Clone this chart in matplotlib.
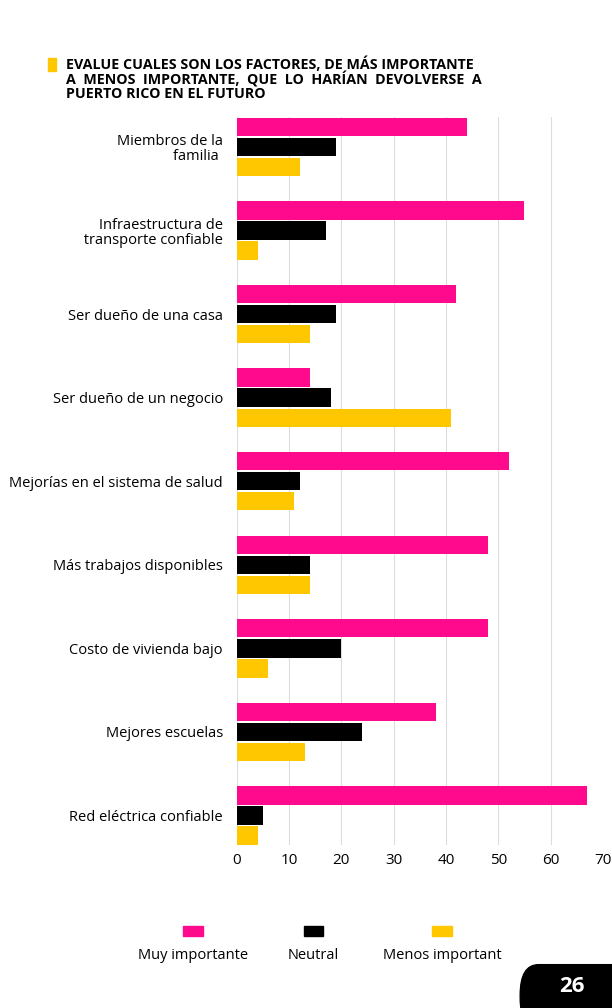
import numpy as np
import matplotlib.pyplot as plt
from matplotlib.patches import FancyBboxPatch

plt.rcParams['font.family'] = ['Open Sans', 'DejaVu Sans']

# ---- data ----
categories = ["Miembros de la\nfamilia ", "Infraestructura de\n transporte confiable",
              "Ser dueño de una casa", "Ser dueño de un negocio",
              "Mejorías en el sistema de salud", "Más trabajos disponibles",
              "Costo de vivienda bajo", "Mejores escuelas", "Red eléctrica confiable"]
muy_importante = [44, 55, 42, 14, 52, 48, 48, 38, 67]
neutral = [19, 17, 19, 18, 12, 14, 20, 24, 5]
menos_importante = [12, 4, 14, 41, 11, 14, 6, 13, 4]
series_names = ["Muy importante", "Neutral", "Menos important"]
colors = ["#FF0A8C", "#000000", "#FFC700"]

fig = plt.figure(figsize=(6.12, 10.08), dpi=100)
ax = fig.add_axes([0.387, 0.162, 0.598, 0.722])

y = np.arange(len(categories))
h = 0.24
for i, (vals, c) in enumerate(zip([muy_importante, neutral, menos_importante], colors)):
    ax.barh(y + (i - 1) * h, vals, height=0.22, color=c, zorder=3)

ax.set_ylim(8.35, -0.36)
ax.set_xlim(0, 70)
ax.set_xticks(range(0, 71, 10))
ax.set_yticks(y)
ax.set_yticklabels(categories, fontsize=10.5, ha='right', linespacing=1.0)
ax.tick_params(length=0, pad=10)
ax.tick_params(axis='x', labelsize=11, pad=6)
ax.grid(axis='x', color='#dddddd', lw=0.8, zorder=0)
for s in ax.spines.values():
    s.set_visible(False)

# title
fig.patches.append(plt.Rectangle((0.078, 0.93), 0.014, 0.012, color="#FFC700",
                                 transform=fig.transFigure))
fig.text(0.108, 0.944, "EVALUE CUALES SON LOS FACTORES, DE MÁS IMPORTANTE\n"
         "A  MENOS  IMPORTANTE,  QUE  LO  HARÍAN  DEVOLVERSE  A\nPUERTO RICO EN EL FUTURO",
         fontsize=10.3, fontweight='bold', va='top', ha='left', linespacing=0.95)

# legend
for xc, name, c in zip([0.315, 0.512, 0.722], series_names, colors):
    fig.patches.append(plt.Rectangle((xc - 0.016, 0.071), 0.032, 0.01, color=c,
                                     transform=fig.transFigure))
    fig.text(xc, 0.052, name, fontsize=10.5, ha='center', va='center')

# page number
fig.patches.append(FancyBboxPatch((0.85, -0.02), 0.2, 0.063,
                                  boxstyle="round,pad=0,rounding_size=0.03",
                                  color='black', transform=fig.transFigure))
fig.text(0.935, 0.0215, "26", color='white', fontsize=16, fontweight='bold',
         ha='center', va='center')

fig.savefig("out.png", dpi=100)
